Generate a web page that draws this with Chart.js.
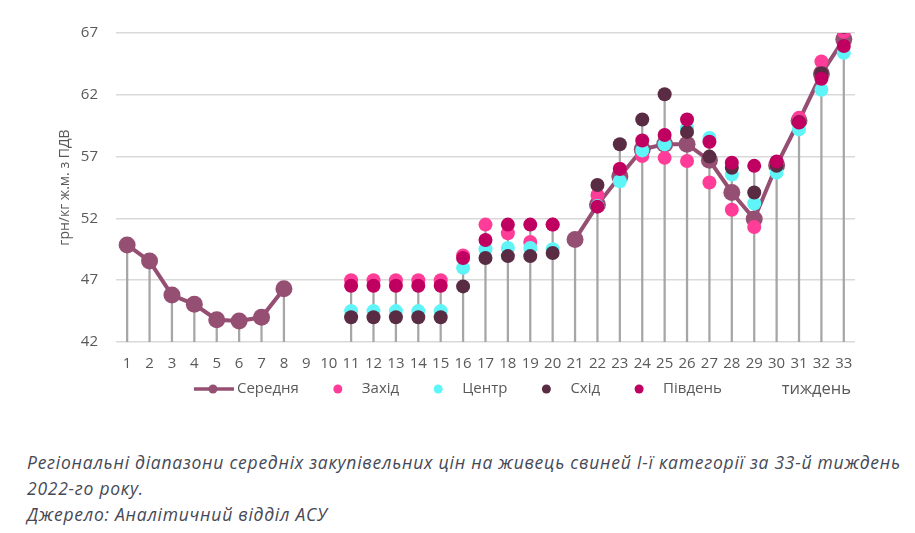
<!DOCTYPE html>
<html lang="uk">
<head>
<meta charset="utf-8">
<title>Регіональні діапазони цін</title>
<script src="https://cdn.jsdelivr.net/npm/chart.js@4.4.1/dist/chart.umd.min.js"></script>
<style>
  body { margin: 0; background: #fff; }
  #wrap { position: relative; width: 915px; height: 533px; }
  #box { position: absolute; left: 0; top: 0; width: 915px; height: 420px; }
  #caption {
    position: absolute; left: 27px; top: 449px; white-space: nowrap;
    font-family: "Open Sans", sans-serif; font-style: italic;
    font-size: 17.5px; letter-spacing: 0.75px; line-height: 26px; color: #464955;
  }
</style>
</head>
<body>
<div id="wrap">
  <div id="box"><canvas id="chart"></canvas></div>
  <div id="caption">Регіональні діапазони середніх закупівельних цін на живець свиней І-ї категорії за 33-й тиждень<br>2022-го року.<br>Джерело: Аналітичний відділ АСУ</div>
</div>
<script>
const weeks = [];
for (let w = 1; w <= 33; w++) weeks.push(String(w));

// грн/кг ж.м. з ПДВ, тижні 1..33
const average = [49.85, 48.55, 45.8, 45.05, 43.8, 43.7, 44.0, 46.3, null, null,
  null, null, null, null, null, null, null, null, null, null,
  50.3, 53.1, 55.4, 57.6, 58.0, 58.0, 56.7, 54.1, 51.95, 56.3, 59.9, 63.7, 66.5];
const west = [null, null, null, null, null, null, null, null, null, null,
  47.0, 47.0, 47.0, 47.0, 47.0, 49.0, 51.5, 50.8, 50.1, 51.5,
  null, 53.9, 56.0, 57.05, 56.9, 56.65, 54.9, 52.7, 51.3, 56.3, 60.15, 64.7, 67.1];
const center = [null, null, null, null, null, null, null, null, null, null,
  44.5, 44.5, 44.5, 44.5, 44.5, 48.0, 49.5, 49.6, 49.6, 49.5,
  null, 53.0, 55.0, 57.5, 58.0, 59.3, 58.5, 55.55, 53.2, 55.7, 59.2, 62.4, 65.4];
const east = [null, null, null, null, null, null, null, null, null, null,
  44.0, 44.0, 44.0, 44.0, 44.0, 46.5, 48.8, 48.95, 48.95, 49.2,
  null, 54.7, 58.0, 60.0, 62.05, 59.0, 57.0, 56.1, 54.1, 56.25, 59.8, 63.75, 67.5];
const south = [null, null, null, null, null, null, null, null, null, null,
  46.55, 46.55, 46.55, 46.55, 46.55, 48.8, 50.25, 51.5, 51.5, 51.5,
  null, 52.95, 56.0, 58.3, 58.75, 60.0, 58.2, 56.5, 56.25, 56.6, 59.75, 63.3, 65.95];

const xTitle = 'тиждень';
const yTitle = 'грн/кг ж.м. з ПДВ';

// вертикальні лінії до осі від найвищої точки тижня
const dropTop = weeks.map((_, i) => {
  const vals = [average[i], west[i], center[i], east[i], south[i]].filter(v => v !== null);
  return vals.length ? Math.max(...vals) : null;
});

const textColor = '#595959';
const fontFamily = '"Open Sans", sans-serif';

function dot(label, data, color, order) {
  return {
    type: 'line', label, data, order, inLegend: true,
    showLine: false,
    pointRadius: 7, pointHoverRadius: 7,
    pointBackgroundColor: color, pointBorderColor: color, pointBorderWidth: 0,
    backgroundColor: color, borderColor: color
  };
}

// легенда в один рядок разом з підписом осі x
const legendRow = {
  id: 'legendRow',
  afterDraw(chart) {
    const ctx = chart.ctx;
    const area = chart.chartArea;
    const y = area.bottom + 47;
    let x = area.left + 78;
    ctx.save();
    ctx.font = '15px ' + fontFamily;
    ctx.textBaseline = 'middle';
    chart.data.datasets.forEach(ds => {
      if (!ds.inLegend) return;
      if (ds.showLine !== false) {
        ctx.strokeStyle = ds.borderColor;
        ctx.lineWidth = 3.5;
        ctx.beginPath(); ctx.moveTo(x, y); ctx.lineTo(x + 40, y); ctx.stroke();
        ctx.fillStyle = ds.borderColor;
        ctx.beginPath(); ctx.arc(x + 19, y, 4.5, 0, Math.PI * 2); ctx.fill();
        x += 43;
      } else {
        ctx.fillStyle = ds.pointBackgroundColor;
        ctx.beginPath(); ctx.arc(x, y, 4.5, 0, Math.PI * 2); ctx.fill();
        x += 24;
      }
      ctx.fillStyle = textColor;
      ctx.fillText(ds.label, x, y);
      x += ctx.measureText(ds.label).width + 39;
    });
    ctx.font = '16.5px ' + fontFamily;
    ctx.textAlign = 'right';
    ctx.fillText(xTitle, area.right - 4, y);
    ctx.restore();
  }
};

new Chart(document.getElementById('chart'), {
  data: {
    labels: weeks,
    datasets: [
      {
        type: 'line', label: 'Середня', data: average, order: 5, inLegend: true,
        borderColor: '#954F72', backgroundColor: '#954F72', borderWidth: 4,
        pointRadius: 8.5, pointHoverRadius: 8.5,
        pointBackgroundColor: '#954F72', pointBorderWidth: 0,
        spanGaps: false, tension: 0
      },
      dot('Захід', west, '#FF3D98', 4),
      dot('Центр', center, '#5FF5F8', 3),
      dot('Схід', east, '#592C44', 2),
      dot('Південь', south, '#BF0060', 1),
      {
        type: 'bar', label: 'drop', data: dropTop, order: 10,
        backgroundColor: '#A6A6A6', barThickness: 1.6
      }
    ]
  },
  options: {
    responsive: true,
    maintainAspectRatio: false,
    animation: false,
    layout: { padding: { top: 33, right: 60, bottom: 34, left: 57 } },
    plugins: {
      legend: { display: false },
      tooltip: { enabled: false }
    },
    scales: {
      x: {
        grid: { display: false, drawTicks: false },
        border: { display: false },
        ticks: {
          autoSkip: false, maxRotation: 0, padding: 13,
          color: textColor, font: { family: fontFamily, size: 15 }
        }
      },
      y: {
        min: 42, max: 67,
        grid: { color: '#D9D9D9', lineWidth: 1.5, drawTicks: false },
        border: { display: false },
        ticks: {
          stepSize: 5, padding: 18,
          color: textColor, font: { family: fontFamily, size: 15 }
        },
        title: {
          display: true, text: yTitle,
          color: textColor, font: { family: fontFamily, size: 14 },
          padding: { top: 0, bottom: -11 }
        }
      }
    }
  },
  plugins: [legendRow]
});
</script>
</body>
</html>
